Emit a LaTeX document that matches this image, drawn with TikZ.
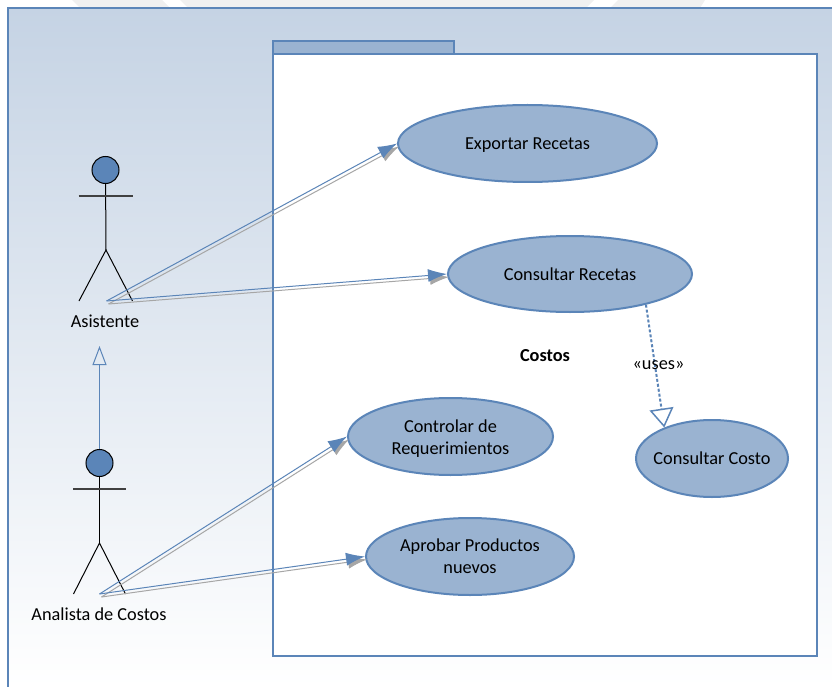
\documentclass[tikz,border=0pt]{standalone}
\usepackage{fontspec}
\setmainfont{Carlito}
\usetikzlibrary{arrows.meta}
\usetikzlibrary{shapes.geometric}
\definecolor{umlblue}{HTML}{5B85B8}
\definecolor{umlfill}{HTML}{9AB3D1}
\definecolor{umlback}{HTML}{C5D3E4}
\definecolor{umlshadow}{HTML}{A6A6A6}
\tikzset{
  usecase/.style={ellipse,draw=umlblue,fill=umlfill,line width=2pt,inner sep=0pt,align=center},
  actorhead/.style={circle,draw=black,fill=umlblue,line width=1pt,minimum size=27pt,inner sep=0pt},
  limb/.style={black,line width=1pt},
  arm/.style={black!75,line width=1.3pt},
  assoc/.style={umlblue,line width=1pt,-{Latex[length=19pt,width=13pt]}},
  assocshadow/.style={umlshadow,line width=1pt,-{Latex[length=19pt,width=13pt]},transform canvas={xshift=2pt,yshift=-3pt}},
}

\begin{document}
\begin{tikzpicture}[x=1pt,y=-1pt,font=\fontsize{18.3}{22}\selectfont] % 1pt is one pixel of the reference

  \useasboundingbox (0,0) rectangle (832,687);

  % sheet behind the diagram
  \fill[black!6] (72,0) -- (162,0) -- (170,8) -- (80,8) -- cycle;
  \fill[black!6] (180,0) -- (594,0) -- (586,8) -- (188,8) -- cycle;
  \fill[black!6] (618,0) -- (705,0) -- (700,8) -- (610,8) -- cycle;
  \shade[top color=umlback,bottom color=white] (8,8) rectangle (832,687);
  \draw[umlblue,line width=1.3pt] (832,8) -- (8,8) -- (8,687);

  % package
  \node[draw=umlblue,fill=umlfill,line width=2pt,minimum width=181pt,minimum height=13pt,inner sep=0pt](tab) at (363.5,47.5) {};
  \node[draw=umlblue,fill=white,line width=2.4pt,minimum width=544pt,minimum height=602pt,inner sep=0pt](costos) at (545,355) {};
  \node[font=\fontsize{18.3}{22}\selectfont\bfseries](costoslabel) at (545,355.5) {Costos};

  % use cases
  \node[usecase,minimum width=259pt,minimum height=77pt,text height=15pt](exportar) at (527.5,143.5) {Exportar Recetas};
  \node[usecase,minimum width=244pt,minimum height=76pt](recetas) at (570,274) {Consultar Recetas};
  \node[usecase,minimum width=205pt,minimum height=77pt](controlar) at (450.5,436.5) {\rule{0pt}{17pt}Controlar de\\Requerimientos};
  \node[usecase,minimum width=208pt,minimum height=77pt](aprobar) at (470,556.5) {Aprobar Productos\\nuevos};
  \node[usecase,minimum width=152pt,minimum height=77pt,inner xsep=-6pt](costo) at (712,458.5) {Consultar Costo};

  % actors
  \node[actorhead](asistente) at (105.5,170) {};
  \coordinate (asistentehip) at (106,250);
  \coordinate (asistentefoot) at (106.5,301);
  \draw[limb] (asistente) -- (asistentehip);
  \draw[limb] (79,301) -- (asistentehip) -- (132.5,301);
  \draw[arm] (78.5,196) -- (132.5,196);
  \node(asistentelabel) at (105,321) {Asistente};

  \node[actorhead](analista) at (99.5,463) {};
  \coordinate (analistahip) at (99.5,543);
  \coordinate (analistafoot) at (99.5,594);
  \draw[limb] (analista) -- (analistahip);
  \draw[limb] (73.5,594) -- (analistahip) -- (125.5,594);
  \draw[arm] (73,489) -- (126,489);
  \node(analistalabel) at (99,614) {Analista de Costos};

  % associations, the grey line is the shadow of the blue one
  \draw[assocshadow] (asistentefoot) -- (exportar.west);
  \draw[assoc] (asistentefoot) -- (exportar.west);
  \draw[assocshadow] (asistentefoot) -- (recetas.west);
  \draw[assoc] (asistentefoot) -- (recetas.west);
  \draw[assocshadow] (analistafoot) -- (controlar.west);
  \draw[assoc] (analistafoot) -- (controlar.west);
  \draw[assocshadow] (analistafoot) -- (aprobar.west);
  \draw[assoc] (analistafoot) -- (aprobar.west);

  % generalization
  \coordinate (asistentebase) at (99.5,346);
  \draw[umlblue,line width=1pt,-{Triangle[open,length=19pt,width=14pt]}] (analista.north) -- (asistentebase);

  % uses
  \draw[umlblue,line width=2pt,dash pattern=on 3pt off 2pt,-{Triangle[open,length=19pt,width=24pt,line width=1.5pt]}] (recetas.-22) -- (costo.147);
  \node(useslabel) at (658.5,365) {«uses»};

\end{tikzpicture}
\end{document}
